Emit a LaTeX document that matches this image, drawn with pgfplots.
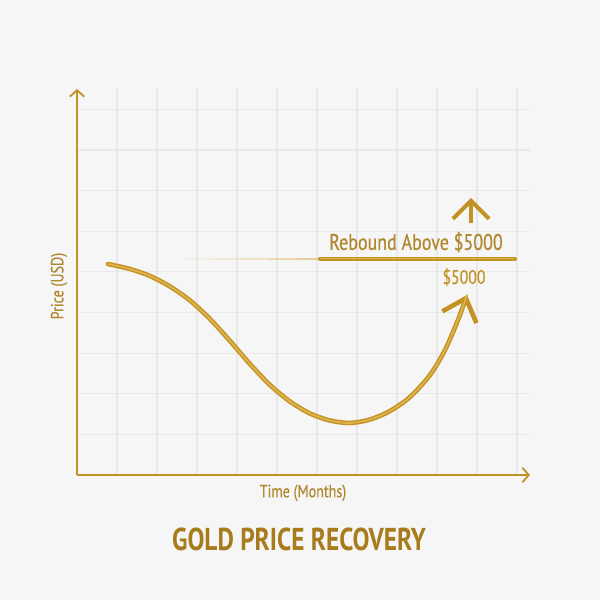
\documentclass[border=0pt]{standalone}
\usepackage{pgfplots}
\pgfplotsset{compat=1.18}
\usepackage{fontspec}
\setmainfont{PT Sans}[FakeStretch=0.8]
\newfontfamily\medfont{PT Sans}[FakeStretch=0.8, FakeBold=0.6]
\usetikzlibrary{arrows.meta}

\definecolor{bgc}{HTML}{F6F6F6}
\definecolor{gridc}{HTML}{E8E8E8}
\definecolor{goldD}{HTML}{A87B1C}
\definecolor{goldM}{HTML}{C39224}
\definecolor{goldL}{HTML}{DDB34C}
\definecolor{goldT}{HTML}{B08830}
\definecolor{goldF}{HTML}{E6C88A}

\pgfplotstableread{
x y
0.775 5.193
1.325 5.070
1.825 4.898
2.325 4.639
2.825 4.295
3.325 3.840
3.825 3.298
4.325 2.732
4.825 2.215
5.325 1.809
5.825 1.514
6.325 1.341
6.825 1.280
7.325 1.366
7.825 1.575
8.325 1.920
8.825 2.461
9.2 3.077
9.525 3.815
9.75 4.430
}\pricepath

\begin{document}
\begin{tikzpicture}
% page background, 1px = 0.25mm
\fill[bgc] (-19.25mm,-31.25mm) rectangle (130.75mm,118.75mm);
\begin{axis}[
  at={(0,0)}, anchor=south west,
  scale only axis,
  width=113.25mm, height=96.5mm,
  xmin=0, xmax=11.325, ymin=0, ymax=9.5,
  axis lines=left,
  axis line style={draw=goldM, line width=0.45mm, -{Straight Barb[length=1.6mm,width=3.6mm]}},
  xtick={1,...,11}, ytick={1,...,9},
  xticklabels={}, yticklabels={},
  major tick length=0pt,
  grid=major,
  grid style={draw=gridc, line width=0.3mm},
  clip=false,
  xlabel={Time (Months)},
  ylabel={Price (USD)},
  xlabel style={at={(axis cs:5.65,-0.44)}, anchor=center, font=\medfont\fontsize{12.5}{14}\selectfont, text=goldT},
  ylabel style={at={(axis cs:-0.45,4.65)}, anchor=center, font=\medfont\fontsize{12.5}{14}\selectfont, text=goldT},
  title={GOLD PRICE RECOVERY},
  title style={at={(axis cs:5.55,-1.58)}, anchor=center, yshift=-6.5pt, font=\bfseries\fontsize{22.5}{26}\selectfont, text=goldD},
]
% fading lead-in of the $5000 level
\addplot[goldF, line width=0.55mm, opacity=0.15] coordinates {(2.7,5.316) (3.4,5.316)};
\addplot[goldF, line width=0.55mm, opacity=0.3] coordinates {(3.4,5.316) (4.1,5.316)};
\addplot[goldF, line width=0.55mm, opacity=0.45] coordinates {(4.1,5.316) (4.8,5.316)};
\addplot[goldF, line width=0.55mm, opacity=0.65] coordinates {(4.8,5.316) (5.5,5.316)};
\addplot[goldF, line width=0.55mm, opacity=0.85] coordinates {(5.5,5.316) (6.075,5.316)};
% $5000 level
\addplot[goldM, line width=1.0mm, line cap=round] coordinates {(6.075,5.316) (10.95,5.316)};
\addplot[goldL, line width=0.35mm, line cap=round] coordinates {(6.1,5.33) (10.92,5.33)};
% price path
\addplot[goldM, line width=1.15mm, line cap=round, smooth,
  -{Straight Barb[length=5mm,width=9mm]}] table {\pricepath};
\addplot[goldL, line width=0.45mm, line cap=round, smooth] table {\pricepath};
% upward arrow
\addplot[goldM, line width=1.0mm, -{Straight Barb[length=4.5mm,width=9mm]}]
  coordinates {(9.85,6.2) (9.85,6.818)};
\node[text=goldT, font=\medfont\fontsize{16}{18}\selectfont] at (axis cs:8.475,5.735) {Rebound Above \$5000};
\node[text=goldM, font=\medfont\fontsize{14}{16}\selectfont] at (axis cs:9.675,4.873) {\$5000};
\end{axis}
\end{tikzpicture}
\end{document}
